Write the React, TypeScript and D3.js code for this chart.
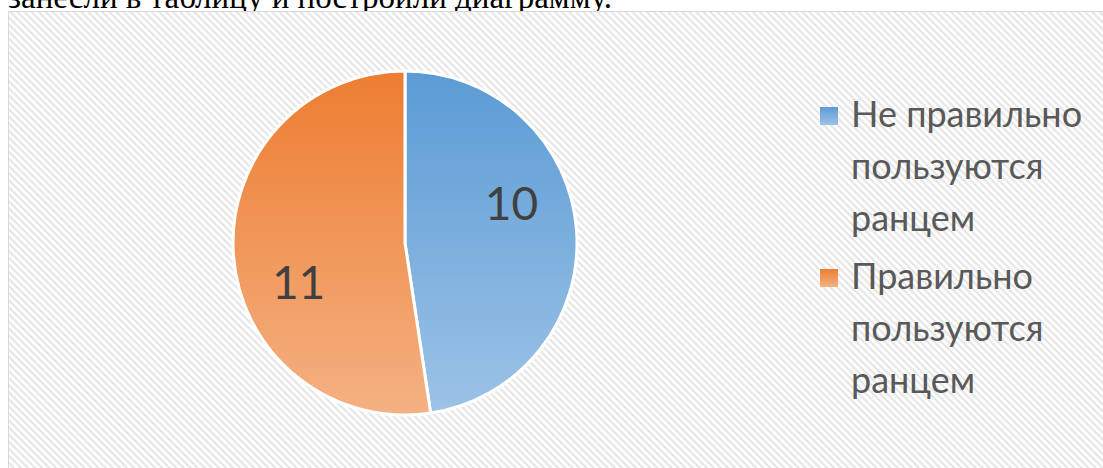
import React from "react";
import * as d3 from "d3";

const categories = ["Не правильно пользуются ранцем", "Правильно пользуются ранцем"];
const values = [10, 11];
const legendLines = [
  ["Не правильно", "пользуются", "ранцем"],
  ["Правильно", "пользуются", "ранцем"],
];
const gradients = [
  ["#5B9BD5", "#9DC3E6"],
  ["#ED7D31", "#F4B183"],
];

const W = 1103;
const H = 468;

export default function App() {
  const cx = 405;
  const cy = 243;
  const r = 172;

  const pie = d3
    .pie<number>()
    .sort(null)
    .value((d) => d);
  const arcs = pie(values);
  const arc = d3.arc<d3.PieArcDatum<number>>().innerRadius(0).outerRadius(r);

  // excel puts the labels a bit off the slice middle (rotated back a little)
  const labelPos = (a: d3.PieArcDatum<number>) => {
    const mid = (a.startAngle + a.endAngle) / 2;
    return d3.pointRadial(mid - 0.28, r * 0.66);
  };

  return (
    <svg
      width={W}
      height={H}
      style={{ position: "absolute", left: 0, top: 0, display: "block", background: "#fff" }}
    >
      <defs>
        <pattern id="hatch" width={5} height={5} patternUnits="userSpaceOnUse" patternTransform="rotate(45)">
          <rect width={5} height={5} fill="#ffffff" />
          <rect width={5} height={2.2} fill="#e6e6e6" />
        </pattern>
        {gradients.map((g, i) => (
          <linearGradient key={i} id={"slice" + i} gradientUnits="userSpaceOnUse" x1={0} y1={-r} x2={0} y2={r}>
            <stop offset="0" stopColor={g[0]} />
            <stop offset="1" stopColor={g[1]} />
          </linearGradient>
        ))}
        {gradients.map((g, i) => (
          <linearGradient key={"l" + i} id={"leg" + i} x1={0} y1={0} x2={0} y2={1}>
            <stop offset="0" stopColor={g[0]} />
            <stop offset="1" stopColor={g[1]} />
          </linearGradient>
        ))}
      </defs>

      <text x={8} y={8} fontFamily="'Liberation Serif', 'Times New Roman', serif" fontSize={33} fill="#000">
        занесли в таблицу и построили диаграмму.
      </text>

      <rect x={8.5} y={11.5} width={1100} height={470} fill="url(#hatch)" stroke="#d9d9d9" strokeWidth={1} />

      <g transform={`translate(${cx},${cy})`}>
        {arcs.map((a, i) => (
          <path key={i} d={arc(a) ?? ""} fill={`url(#slice${i})`} stroke="#fff" strokeWidth={3} strokeLinejoin="round" />
        ))}
        {arcs.map((a, i) => {
          const [lx, ly] = labelPos(a);
          return (
            <text
              key={"t" + i}
              x={lx}
              y={ly}
              dy="0.36em"
              textAnchor="middle"
              fontFamily="Lato, 'Open Sans', sans-serif"
              fontSize={46}
              fill="#404040"
            >
              {a.data}
            </text>
          );
        })}
      </g>

      <g fontFamily="Lato, 'Open Sans', sans-serif" fontSize={36} fill="#595959">
        {categories.map((c, i) => {
          const top = 127 + i * 162;
          return (
            <g key={c}>
              <rect x={820} y={top - 20} width={18} height={18} fill={`url(#leg${i})`} />
              {legendLines[i].map((line, j) => (
                <text key={j} x={851} y={top + j * 52}>
                  {line}
                </text>
              ))}
            </g>
          );
        })}
      </g>
    </svg>
  );
}
